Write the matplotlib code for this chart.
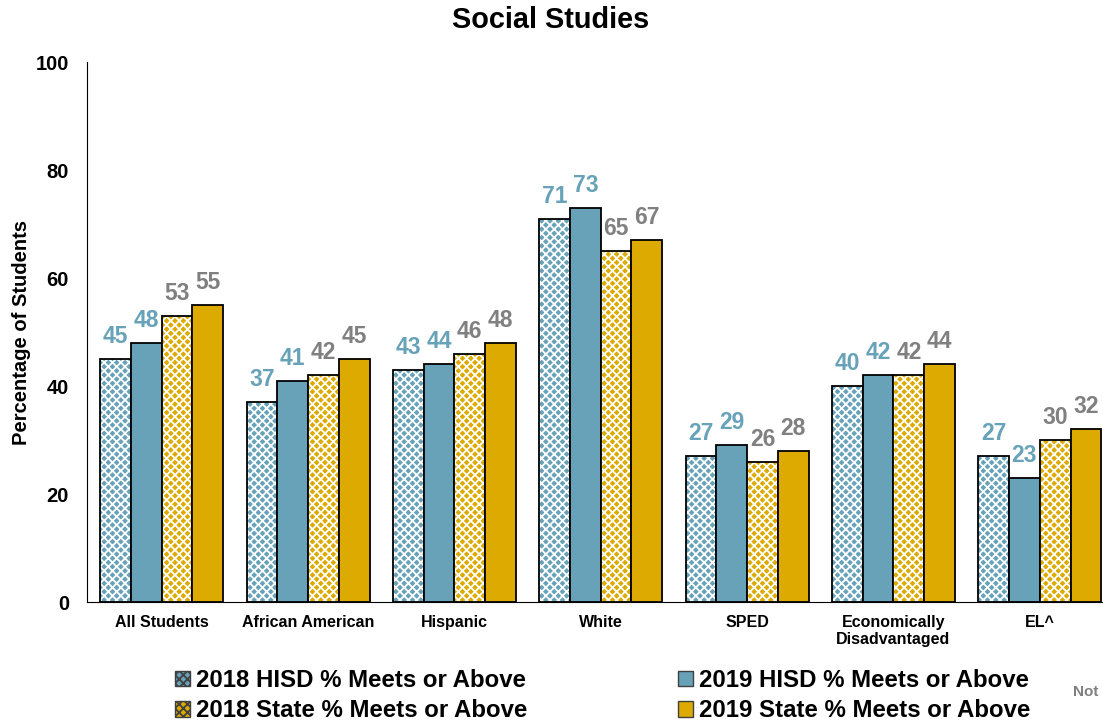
import numpy as np
import matplotlib
matplotlib.use('Agg')
import matplotlib.pyplot as plt
from matplotlib.patches import Patch

plt.rcParams['font.family'] = ['Liberation Sans', 'DejaVu Sans']
plt.rcParams['hatch.linewidth'] = 1.3

# dati
categorie = ['All Students', 'African American', 'Hispanic', 'White', 'SPED',
             'Economically\nDisadvantaged', 'EL^']
hisd_2018 = [45, 37, 43, 71, 27, 40, 27]
hisd_2019 = [48, 41, 44, 73, 29, 42, 23]
state_2018 = [53, 42, 46, 65, 26, 42, 30]
state_2019 = [55, 45, 48, 67, 28, 44, 32]
serie_nomi = ['2018 HISD % Meets or Above', '2019 HISD % Meets or Above',
              '2018 State % Meets or Above', '2019 State % Meets or Above']

blu = '#67a2b9'
oro = '#dcaa00'
grigio = '#808080'

fig = plt.figure(figsize=(11.03, 7.21), dpi=100)
ax = fig.add_axes([0.0789, 0.165, 0.9315, 0.749])

x = np.arange(len(categorie))
w = 0.21
serie = [hisd_2018, hisd_2019, state_2018, state_2019]
colori = [blu, blu, oro, oro]
tratteggi = ['xxxx', None, 'xxxx', None]
col_etichette = [blu, blu, grigio, grigio]

for i, (vals, c, h, ce) in enumerate(zip(serie, colori, tratteggi, col_etichette)):
    pos = x + (i - 1.5) * w
    if h:
        ax.bar(pos, vals, w, color=c, hatch=h, edgecolor='white', linewidth=0)
    else:
        ax.bar(pos, vals, w, color=c, linewidth=0)
    ax.bar(pos, vals, w, fill=False, edgecolor='black', linewidth=1.3)
    for p, v in zip(pos, vals):
        ax.annotate(str(v), (p, v), xytext=(0, 8), textcoords='offset points',
                    ha='center', va='bottom', fontsize=16.5, fontweight='bold', color=ce)

ax.set_xlim(-0.51, len(categorie) - 0.49)
ax.set_ylim(0, 100)
ax.set_yticks([0, 20, 40, 60, 80, 100])
ax.set_xticks(x)
ax.set_xticklabels(categorie, fontsize=11.5, fontweight='bold')
ax.tick_params(axis='both', length=0)
ax.tick_params(axis='y', labelsize=14.5, pad=13)
ax.tick_params(axis='x', pad=9)
for lab in ax.get_yticklabels():
    lab.set_fontweight('bold')
ax.spines['top'].set_visible(False)
ax.spines['right'].set_visible(False)
ax.set_ylabel('Percentage of Students', fontsize=14.5, fontweight='bold', labelpad=3)

fig.text(551 / 1103, 1 - 20 / 721, 'Social Studies', fontsize=20.8, fontweight='bold',
         ha='center', va='center')

# legenda per righe: 2018 HISD, 2019 HISD / 2018 State, 2019 State
ordine = [0, 2, 1, 3]
handles = [Patch(facecolor=colori[k], hatch=tratteggi[k], edgecolor='#404040', linewidth=1.0)
           for k in ordine]
etichette = [serie_nomi[k] for k in ordine]
fig.legend(handles, etichette, ncol=2, loc='center left', bbox_to_anchor=(0.148, 0.035),
           frameon=False, prop={'size': 17.3, 'weight': 'bold'},
           handlelength=0.6, handleheight=0.6, handletextpad=0.25,
           columnspacing=6.3, labelspacing=0.3, borderpad=0)

fig.text(1073 / 1103, 1 - 692 / 721, 'Not', fontsize=11, fontweight='bold', color=grigio,
         va='center')

fig.savefig('out.png', dpi=100)
